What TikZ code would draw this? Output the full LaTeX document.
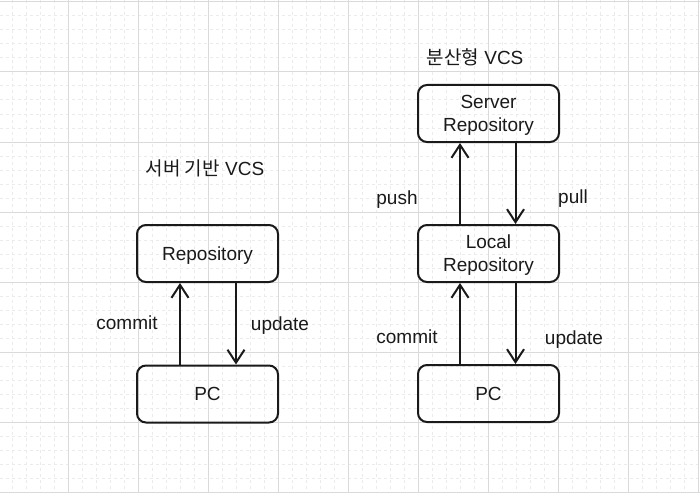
\documentclass[tikz,border=0pt]{standalone}
\usepackage{fontspec}
\setmainfont{Liberation Sans}
\newfontfamily\kr{Noto Sans CJK KR}
\usetikzlibrary{arrows.meta,positioning}

\definecolor{ink}{HTML}{1A1A1A}
\definecolor{gridmajor}{HTML}{DADADA}
\definecolor{gridminor}{HTML}{EBEBEB}

\tikzset{
  vcsbox/.style={draw=ink, line width=2pt, rounded corners=9pt,
    minimum width=141pt, minimum height=57pt, align=center,
    text depth=-4pt, text=ink, font=\fontsize{19}{23}\selectfont},
  flow/.style={draw=ink, line width=2pt,
    -{Straight Barb[length=13pt, width=17pt, line width=2pt]}},
  lbl/.style={text=ink, text depth=0pt, font=\fontsize{19}{23}\selectfont},
  minorgrid/.style={gridminor, line width=1pt, dash pattern=on 3pt off 3pt},
  majorgrid/.style={gridmajor, line width=1pt}
}

\begin{document}
\begin{tikzpicture}[x=1pt, y=-1pt]
  \useasboundingbox (0,0) rectangle (700,492);
  \fill[white] (0,0) rectangle (700,492);

  % background grid
  \foreach \i in {0,...,50}
    \draw[minorgrid] (\i*14-1.5,0) -- (\i*14-1.5,492);
  \foreach \j in {0,...,35}
    \draw[minorgrid] (0,\j*14+2) -- (700,\j*14+2);
  \foreach \i in {0,...,10}
    \draw[majorgrid] (\i*70-1.5,0) -- (\i*70-1.5,492);
  \foreach \j in {0,...,7}
    \draw[majorgrid] (0,\j*70+2) -- (700,\j*70+2);

  % centralized VCS
  \node[lbl] (ctitle) at (205,168) {{\kr 서버 기반} VCS};
  \node[vcsbox] (crepo) at (207.5,253.5) {Repository};
  \node[vcsbox] (cpc) at (207.5,394) {PC};
  \draw[flow] ([xshift=-27.5pt]cpc.north) -- ([xshift=-27.5pt]crepo.south);
  \draw[flow] ([xshift=28.5pt]crepo.south) -- ([xshift=28.5pt]cpc.north);
  \node[lbl] (ccommit) at (127,323) {commit};
  \node[lbl] (cupdate) at (280,324) {update};

  % distributed VCS
  \node[lbl] (dtitle) at (475,57) {{\kr 분산형} VCS};
  \node[vcsbox] (dserver) at (488.5,113.5) {Server\\Repository};
  \node[vcsbox] (dlocal) at (488.5,253.5) {Local\\Repository};
  \node[vcsbox] (dpc) at (488.5,393.5) {PC};
  \draw[flow] ([xshift=-28.5pt]dlocal.north) -- ([xshift=-28.5pt]dserver.south);
  \draw[flow] ([xshift=27pt]dserver.south) -- ([xshift=27pt]dlocal.north);
  \draw[flow] ([xshift=-28.5pt]dpc.north) -- ([xshift=-28.5pt]dlocal.south);
  \draw[flow] ([xshift=27pt]dlocal.south) -- ([xshift=27pt]dpc.north);
  \node[lbl] (dpush) at (397,198) {push};
  \node[lbl] (dpull) at (573,197) {pull};
  \node[lbl] (dcommit) at (407,337) {commit};
  \node[lbl] (dupdate) at (574,338) {update};
\end{tikzpicture}
\end{document}
